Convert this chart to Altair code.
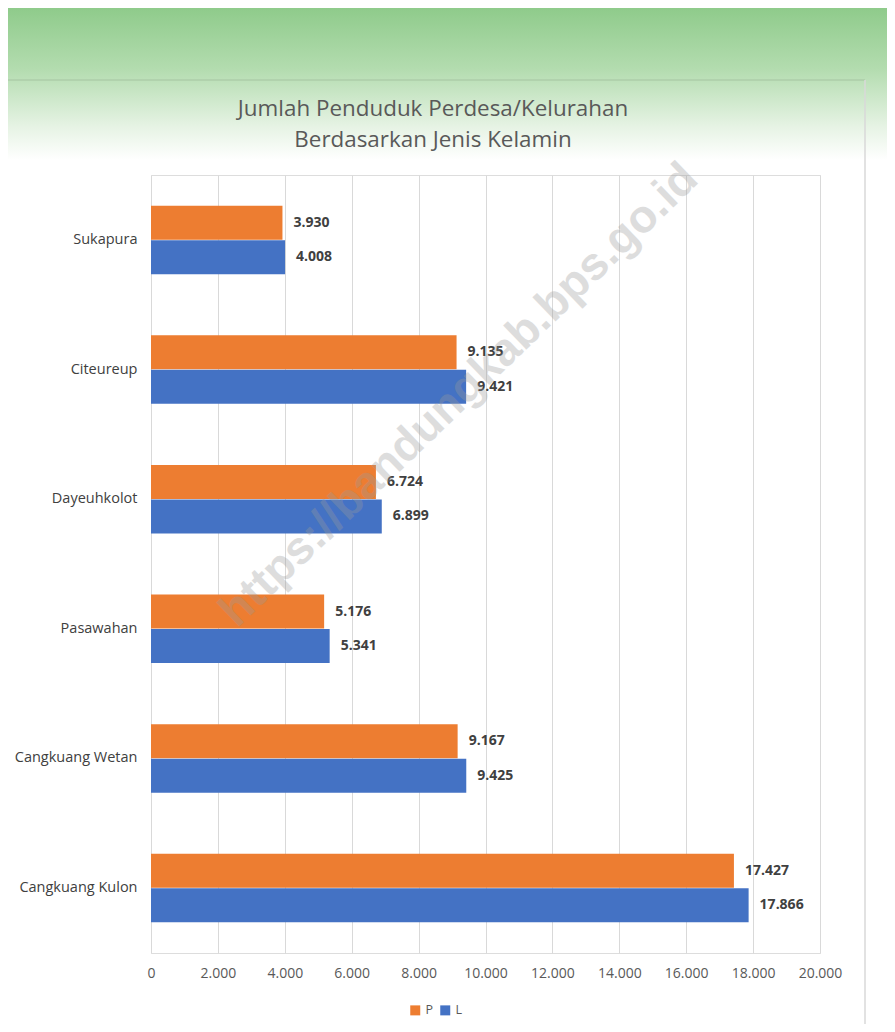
import altair as alt
import pandas as pd

# ---- data ----
desa = ["Sukapura", "Citeureup", "Dayeuhkolot", "Pasawahan", "Cangkuang Wetan", "Cangkuang Kulon"]
perempuan = [3930, 9135, 6724, 5176, 9167, 17427]
laki = [4008, 9421, 6899, 5341, 9425, 17866]
jenis = ["P", "L"]
ticks = [0, 2000, 4000, 6000, 8000, 10000, 12000, 14000, 16000, 18000, 20000]
title_lines = ["Jumlah Penduduk Perdesa/Kelurahan", "Berdasarkan Jenis Kelamin"]
watermark = "https://bandungkab.bps.go.id"

rows = []
for d, p, l in zip(desa, perempuan, laki):
    rows.append({"desa": d, "jk": "P", "nilai": p})
    rows.append({"desa": d, "jk": "L", "nilai": l})
df = pd.DataFrame(rows)

ORANGE = "#ED7D31"
BLUE = "#4472C4"
FONT = "Open Sans"

W, H = 669, 778

y_enc = alt.Y("desa:N", sort=desa, title=None,
              scale=alt.Scale(paddingInner=0.468, paddingOuter=0.235),
              axis=alt.Axis(domain=False, ticks=False, grid=False, labelFont=FONT,
                            labelFontSize=14.5, labelColor="#404040", labelPadding=14))
yoff = alt.YOffset("jk:N", sort=jenis, scale=alt.Scale(domain=jenis, paddingInner=0))
x_enc = alt.X("nilai:Q", title=None,
              scale=alt.Scale(domain=[0, 20000], nice=False),
              axis=alt.Axis(values=ticks, domain=False, ticks=False, grid=True,
                            gridColor="#D9D9D9", gridWidth=1, labelFlush=False,
                            labelOverlap=False,
                            labelExpr="replace(format(datum.value, ','), ',', '.')",
                            labelFont=FONT, labelFontSize=14, labelColor="#595959",
                            labelPadding=13))

base = alt.Chart(df).transform_calculate(
    label="replace(format(datum.nilai, ','), ',', '.')"
)

bars = base.mark_bar(size=34).encode(
    x=x_enc,
    y=y_enc,
    yOffset=yoff,
    color=alt.Color("jk:N", sort=jenis,
                    scale=alt.Scale(domain=jenis, range=[ORANGE, BLUE]),
                    legend=alt.Legend(title=None, orient="none", legendX=258, legendY=829,
                                      direction="horizontal", symbolType="square",
                                      symbolSize=100, symbolStrokeWidth=0,
                                      labelFont=FONT, labelFontSize=12.5,
                                      labelColor="#595959", columnPadding=5,
                                      labelOffset=4)),
)

labels = base.mark_text(align="left", baseline="middle", dx=11, font=FONT,
                        fontSize=14, fontWeight="bold", color="#404040").encode(
    x="nilai:Q",
    y=alt.Y("desa:N", sort=desa),
    yOffset=alt.YOffset("jk:N", sort=jenis),
    text="label:N",
)

one = alt.Data(values=[{}])

grad = alt.Chart(one).mark_rect(
    color=alt.Gradient(
        gradient="linear", x1=0, x2=0, y1=0, y2=1,
        stops=[alt.GradientStop(color="#8FCB8B", offset=0),
               alt.GradientStop(color="#B3DCAF", offset=0.4),
               alt.GradientStop(color="#E6F3E4", offset=0.78),
               alt.GradientStop(color="#FFFFFF", offset=1)]),
).encode(x=alt.value(-151), x2=alt.value(744), y=alt.value(-167), y2=alt.value(-15))

box_top = alt.Chart(one).mark_rule(color="#A9C9A6", strokeWidth=1.5, opacity=0.8).encode(
    x=alt.value(-148), x2=alt.value(714), y=alt.value(-95))
box_right = alt.Chart(one).mark_rule(color="#D9D9D9", strokeWidth=1.5).encode(
    x=alt.value(714), y=alt.value(-95), y2=alt.value(860))

title = alt.Chart(one).mark_text(
    text=title_lines, font=FONT, fontSize=22.4, color="#595959", lineHeight=31,
    align="center", baseline="middle",
).encode(x=alt.value(282), y=alt.value(-66))

wm = alt.Chart(one).mark_text(
    text=watermark, angle=316, font="Liberation Sans", fontSize=46, fontWeight="bold",
    color="#9a9a9a", opacity=0.33, align="center", baseline="middle",
).encode(x=alt.value(308), y=alt.value(220))

chart = alt.layer(grad, box_top, box_right, title, bars, labels, wm).properties(
    width=W, height=H,
    autosize=alt.AutoSizeParams(type="none"),
    padding={"left": 143, "top": 167, "right": 67, "bottom": 71},
).configure_view(stroke=None).configure(background="white")

chart.save("out.html", embed_options={"renderer": "svg", "actions": False})
